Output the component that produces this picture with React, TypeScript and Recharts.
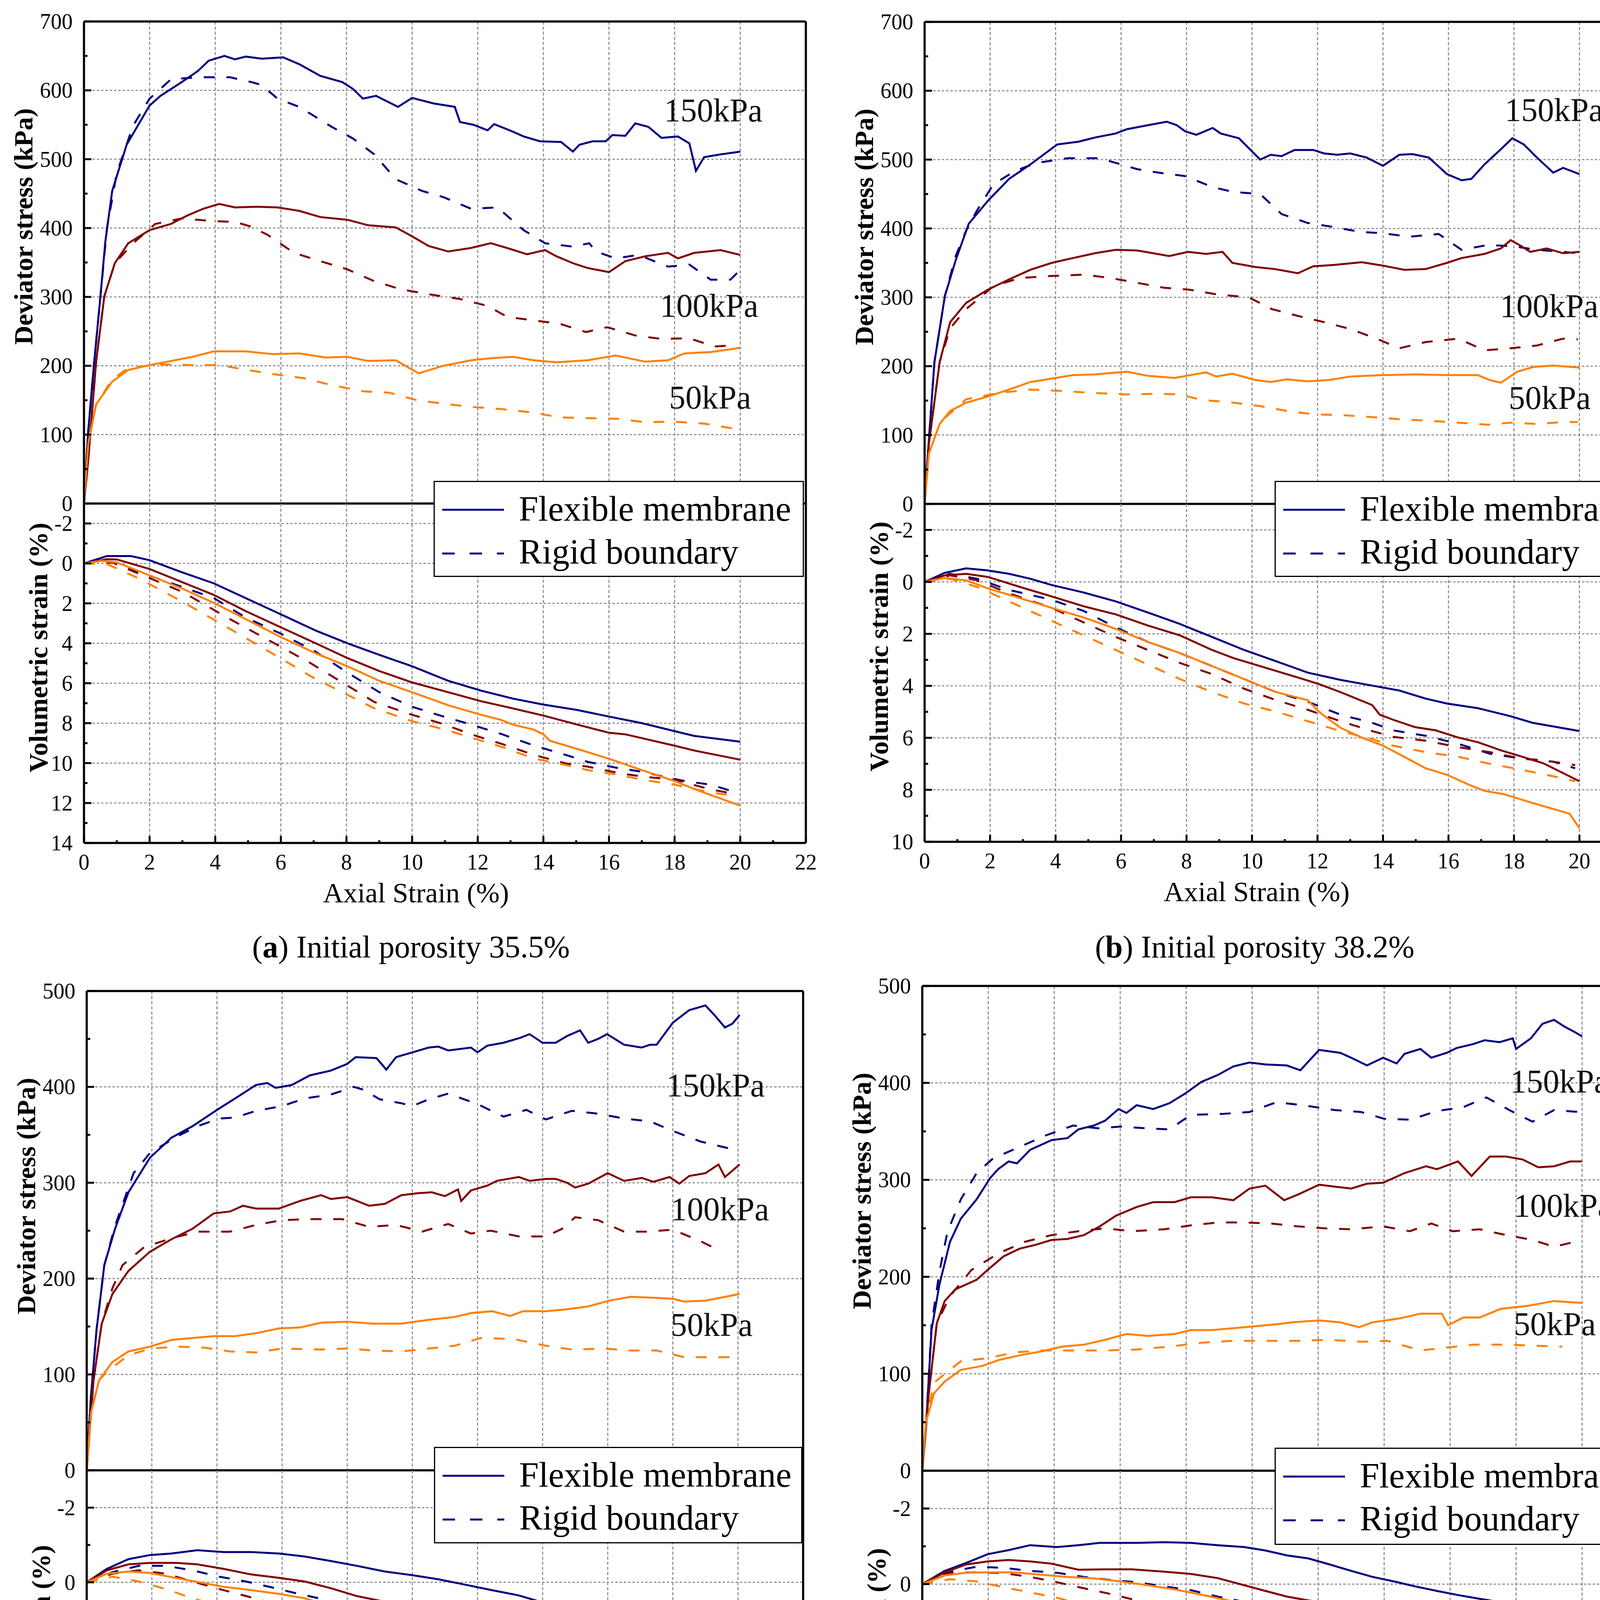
import React from 'react';
import { LineChart, Line, XAxis, YAxis, CartesianGrid, ReferenceLine, ReferenceDot } from 'recharts';

type Pt = [number, number];

// ---------------- Panel (a) : initial porosity 35.5% ----------------
const aQFlex150: Pt[] = [[0,0],[0.12,100],[0.3,200],[0.5,300],[0.65,380],[0.86,454],[1.3,521],[2,578],[2.33,592],[2.98,612],[3.47,628],[3.8,643],[4.28,650],[4.6,645],[4.93,649],[5.42,646],[6.07,648],[6.56,638],[7.2,621],[7.87,612],[8.2,602],[8.5,588],[8.9,592],[9.57,576],[10,589],[10.65,581],[11.3,576],[11.46,554],[11.87,550],[12.3,542],[12.5,551],[13.07,540],[13.4,533],[13.9,526],[14.54,525],[14.9,511],[15.1,521],[15.5,526],[15.9,526],[16.1,535],[16.5,534],[16.8,552],[17.2,547],[17.6,531],[18.1,533],[18.45,523],[18.65,483],[18.9,503],[19.4,507],[20,511]];
const aQRigid150: Pt[] = [[0,0],[0.12,100],[0.3,200],[0.5,300],[0.7,400],[1.0,480],[1.5,549],[2,588],[2.65,616],[3.47,619],[4.45,619],[5.1,612],[5.4,608],[5.9,588],[6.56,576],[6.9,566],[7.55,547],[8.2,530],[8.85,507],[9.5,471],[10.3,454],[10.95,445],[11.8,428],[12.6,430],[13.4,397],[14.05,378],[14.9,373],[15.4,378],[15.6,366],[16.2,356],[16.9,361],[17.8,344],[18.45,347],[19.1,325],[19.7,325],[19.95,337]];
const aQFlex100: Pt[] = [[0,0],[0.13,63],[0.37,206],[0.62,301],[0.94,349],[1.35,378],[2,397],[2.65,406],[3.14,418],[3.63,428],[4.12,435],[4.6,430],[5.26,431],[5.9,430],[6.56,425],[7.2,416],[8.03,412],[8.67,404],[9.5,401],[10,388],[10.5,374],[11.1,366],[11.78,371],[12.4,378],[12.9,371],[13.5,362],[14.05,368],[14.4,359],[14.9,349],[15.35,342],[16,336],[16.5,352],[17.1,359],[17.8,364],[18.1,356],[18.6,364],[19.4,368],[20,361]];
const aQRigid100: Pt[] = [[0,0],[0.13,63],[0.37,206],[0.62,301],[0.94,349],[1.5,378],[2.17,406],[2.98,414],[3.96,410],[4.6,409],[5.1,402],[5.6,390],[6.4,364],[7.2,352],[8.03,340],[8.84,323],[9.66,311],[10.5,304],[11.46,297],[12.3,287],[12.9,271],[13.7,266],[14.5,261],[15.3,249],[15.95,256],[16.8,244],[17.6,239],[18.45,240],[19.2,228],[19.9,230]];
const aQFlex50: Pt[] = [[0,0],[0.13,87],[0.37,144],[0.86,177],[1.35,194],[2,201],[2.65,207],[3.3,213],[3.96,221],[4.93,221],[5.75,217],[6.56,218],[7.37,212],[8.03,213],[8.67,207],[9.5,208],[10.2,189],[10.95,200],[11.8,208],[12.4,211],[13.07,213],[13.7,208],[14.4,205],[15.35,208],[16.2,215],[17.1,206],[17.8,208],[18.3,218],[19.1,220],[20,226]];
const aQRigid50: Pt[] = [[0,0],[0.13,87],[0.37,144],[0.86,180],[1.35,197],[2.33,202],[3.3,201],[4.12,201],[5.1,193],[5.9,187],[6.7,182],[7.54,172],[8.5,163],[9.3,161],[10.15,150],[11.1,144],[11.9,140],[12.75,137],[13.7,132],[14.5,125],[15.35,124],[16.3,123],[17.1,118],[17.96,119],[18.9,116],[19.9,108]];
const aVFlex150: Pt[] = [[0,0],[0.7,-0.37],[1.43,-0.37],[2,-0.16],[2.98,0.44],[3.96,1.0],[4.93,1.74],[6,2.55],[7.06,3.36],[8.03,4.0],[9,4.58],[10,5.15],[11.1,5.88],[12.1,6.37],[13.07,6.77],[14,7.07],[15.03,7.34],[16,7.67],[17,8.0],[18,8.4],[18.6,8.64],[20,8.93]];
const aVFlex100: Pt[] = [[0,0],[0.7,-0.21],[1,-0.2],[2,0.28],[2.98,0.93],[3.96,1.58],[4.93,2.39],[6,3.2],[7.06,4.0],[8.03,4.74],[9,5.39],[10,5.96],[11.1,6.45],[12.1,6.9],[13.07,7.26],[14,7.62],[15.03,8.07],[16,8.48],[16.5,8.56],[17,8.75],[18,9.13],[18.6,9.37],[20,9.83]];
const aVFlex50: Pt[] = [[0,0],[0.54,-0.13],[1,-0.05],[2,0.6],[2.98,1.25],[3.96,1.98],[4.93,2.79],[6,3.69],[7.06,4.5],[8.03,5.15],[9,5.88],[10,6.45],[11.1,7.1],[12.1,7.58],[12.7,7.83],[13.07,8.07],[13.7,8.32],[14,8.56],[14.2,8.88],[15.03,9.29],[16,9.78],[17,10.35],[18,10.9],[18.6,11.3],[20,12.13]];
const aVRigid150: Pt[] = [[0,0],[0.86,-0.05],[1.68,0.44],[2.98,1.17],[3.96,1.74],[4.93,2.71],[6,3.52],[7.06,4.42],[8.03,5.47],[9,6.45],[10,7.18],[10.96,7.67],[11.8,8.07],[12.75,8.56],[13.73,9.13],[14.7,9.6],[15.36,9.94],[16.3,10.26],[17,10.43],[17.64,10.67],[18.3,10.9],[19.1,11.08],[19.9,11.48]];
const aVRigid100: Pt[] = [[0,0],[0.86,-0.05],[1.68,0.52],[2.98,1.41],[4.45,2.79],[5.9,4.09],[6.9,4.99],[7.87,5.96],[8.85,6.94],[10,7.58],[11,8.07],[11.8,8.56],[12.75,9.05],[13.73,9.6],[14.7,10.02],[15.36,10.18],[16.3,10.5],[17,10.67],[18,10.83],[19.1,11.32],[19.9,11.56]];
const aVRigid50: Pt[] = [[0,0],[0.7,0.03],[1.68,0.76],[2.98,1.9],[4.45,3.28],[5.9,4.66],[6.9,5.64],[7.87,6.45],[8.85,7.26],[10,7.9],[11,8.32],[11.8,8.72],[12.75,9.2],[13.73,9.78],[14.7,10.1],[15.36,10.35],[16.3,10.59],[17,10.83],[18,11.08],[19.1,11.48],[19.9,11.64]];

// ---------------- Panel (b) : initial porosity 38.2% ----------------
const bQFlex150: Pt[] = [[0,0],[0.05,39],[0.3,206],[0.62,302],[0.95,354],[1.35,407],[1.93,440],[2.58,472],[3.23,493],[4.05,522],[4.7,526],[5.2,532],[5.84,538],[6.17,544],[6.82,550],[7.4,555],[7.7,550],[7.96,541],[8.3,536],[8.8,546],[9.04,538],[9.6,531],[10.25,500],[10.57,507],[10.9,505],[11.3,514],[11.87,514],[12.2,509],[12.6,507],[13,509],[13.5,503],[14,491],[14.5,507],[14.9,508],[15.4,503],[15.95,479],[16.4,470],[16.7,472],[17.1,493],[17.6,515],[17.95,531],[18.3,522],[18.7,503],[19.2,481],[19.5,488],[20,479]];
const bQRigid150: Pt[] = [[0,0],[0.05,39],[0.3,206],[0.62,302],[0.95,360],[1.27,397],[1.6,426],[2.1,464],[2.74,483],[3.4,495],[4.37,502],[5.35,502],[6,493],[6.5,486],[7.15,481],[7.96,476],[8.8,460],[9.43,453],[10.25,450],[10.9,421],[11.7,408],[12.5,402],[13.3,395],[14,393],[14.8,388],[15.7,392],[16.4,369],[17.2,376],[18,374],[18.7,369],[19.5,366],[19.95,364]];
const bQFlex100: Pt[] = [[0,0],[0.13,87],[0.46,206],[0.78,264],[1.27,292],[1.93,311],[2.58,326],[3.23,340],[3.88,350],[4.53,357],[5.2,364],[5.84,369],[6.5,368],[7.47,360],[8.05,366],[8.6,363],[9.1,366],[9.4,350],[10.1,344],[10.7,341],[11.4,335],[11.87,345],[12.5,347],[13.35,351],[14,346],[14.65,340],[15.3,341],[15.95,350],[16.4,357],[17.1,363],[17.6,371],[17.9,383],[18.2,375],[18.5,366],[19,371],[19.5,364],[20,366]];
const bQRigid100: Pt[] = [[0,0],[0.13,87],[0.46,206],[0.78,255],[1.27,283],[2.1,316],[2.9,328],[3.88,331],[4.86,333],[5.68,328],[6.5,321],[7.3,314],[8.1,311],[8.95,304],[9.9,300],[10.6,283],[11.4,273],[12.2,264],[13,254],[13.8,240],[14.5,226],[15.3,235],[16.3,240],[17.1,223],[17.9,226],[18.7,230],[19.5,240],[19.95,239]];
const bQFlex50: Pt[] = [[0,0],[0.13,73],[0.46,116],[0.78,135],[1.27,147],[1.93,156],[2.58,166],[3.23,177],[3.88,182],[4.53,187],[5.2,188],[6.17,192],[6.82,186],[7.63,183],[8.6,191],[8.9,185],[9.4,189],[10.1,180],[10.57,177],[11.06,181],[11.7,178],[12.35,180],[13,185],[14,187],[14.98,188],[15.95,187],[16.9,187],[17.25,180],[17.6,176],[18.1,192],[18.6,199],[19.2,201],[20,198]];
const bQRigid50: Pt[] = [[0,0],[0.13,73],[0.46,116],[0.62,125],[1.27,152],[2.25,161],[3.23,166],[4.2,164],[5.2,161],[6.17,159],[7.15,160],[7.8,159],[8.45,151],[9.27,148],[10.25,142],[11.06,135],[11.9,130],[12.7,129],[13.7,126],[14.5,123],[15.3,121],[16.3,118],[17.2,115],[17.9,118],[18.7,116],[19.5,119],[19.95,119]];
const bVFlex150: Pt[] = [[0,0],[0.62,-0.35],[1.27,-0.52],[1.93,-0.44],[2.58,-0.31],[3.23,-0.12],[3.88,0.12],[4.86,0.41],[5.84,0.75],[6.82,1.18],[7.8,1.62],[8.78,2.12],[9.76,2.62],[10.73,3.05],[11.7,3.49],[12.7,3.77],[13.67,3.99],[14.5,4.18],[15.3,4.49],[15.95,4.68],[16.9,4.86],[17.9,5.17],[18.56,5.42],[20,5.74]];
const bVFlex100: Pt[] = [[0,0],[0.62,-0.25],[1.27,-0.31],[1.93,-0.19],[2.9,0.19],[3.88,0.56],[4.86,0.94],[5.84,1.25],[6.82,1.68],[7.8,2.06],[8.78,2.62],[9.43,2.93],[10.4,3.3],[11.4,3.68],[12.04,3.93],[12.7,4.24],[13.67,4.74],[13.9,5.11],[14.3,5.3],[14.98,5.59],[15.6,5.71],[16.3,5.99],[16.9,6.17],[17.6,6.48],[18.1,6.67],[18.9,6.98],[20,7.67]];
const bVFlex50: Pt[] = [[0,0],[0.62,-0.15],[1.27,-0.06],[1.93,0.25],[2.9,0.62],[3.88,1.0],[4.86,1.37],[5.84,1.81],[6.82,2.31],[7.8,2.74],[8.78,3.24],[9.76,3.74],[10.73,4.24],[11.7,4.55],[12.04,4.99],[12.36,5.3],[12.7,5.61],[13.35,5.99],[14,6.3],[14.65,6.73],[15.3,7.17],[15.95,7.42],[16.6,7.79],[17.1,8.04],[17.7,8.17],[18.5,8.48],[19.7,8.92],[20,9.48]];
const bVRigid150: Pt[] = [[0,0],[0.78,-0.31],[1.6,-0.12],[2.58,0.31],[3.88,0.69],[4.86,1.12],[5.84,1.75],[6.82,2.31],[7.8,2.74],[8.78,3.24],[9.76,3.74],[10.73,4.24],[11.7,4.61],[12.7,5.11],[13.67,5.42],[14.3,5.71],[15.3,5.92],[16.3,6.23],[17.26,6.61],[18.24,6.8],[19.2,6.92],[19.87,7.17]];
const bVRigid100: Pt[] = [[0,0],[0.78,-0.25],[1.6,-0.06],[2.58,0.44],[3.88,1.0],[4.86,1.56],[5.84,2.12],[6.82,2.62],[7.8,3.12],[8.78,3.55],[9.76,4.11],[10.73,4.55],[11.7,4.92],[12.7,5.36],[13.67,5.74],[14.3,5.96],[15.3,6.11],[16.3,6.36],[17.26,6.55],[18.24,6.8],[18.9,6.86],[19.87,7.05]];
const bVRigid50: Pt[] = [[0,0],[0.78,-0.12],[1.6,0.19],[2.58,0.75],[3.88,1.5],[4.86,2.06],[5.84,2.62],[6.82,3.18],[7.8,3.74],[8.78,4.24],[9.76,4.68],[10.73,4.99],[11.7,5.36],[12.7,5.74],[13.67,6.05],[14.3,6.3],[15.3,6.55],[16.3,6.73],[17.26,7.0],[18.24,7.23],[19.2,7.48],[19.87,7.67]];

// ---------------- Panel (c) : initial porosity 40.8% ----------------
const cQFlex150: Pt[] = [[0,0],[0.13,77],[0.3,146],[0.54,214],[0.87,252],[1.28,290],[1.94,326],[2.6,347],[3.25,359],[4,376],[4.56,388],[5.2,402],[5.55,404],[5.8,399],[6.3,402],[6.85,412],[7.5,417],[8,424],[8.26,431],[8.9,430],[9.2,418],[9.5,431],[10,436],[10.5,441],[10.8,442],[11.1,438],[11.8,441],[12,436],[12.3,443],[12.8,446],[13.3,451],[13.6,455],[14,446],[14.4,446],[14.75,453],[15.15,459],[15.4,446],[15.7,450],[15.98,455],[16.5,444],[17.04,441],[17.3,444],[17.5,444],[18,467],[18.5,480],[19,485],[19.3,474],[19.6,462],[19.83,466],[20.05,475]];
const cQRigid150: Pt[] = [[0,0],[0.13,77],[0.3,146],[0.54,214],[0.87,255],[1.44,310],[1.94,331],[2.76,348],[3.4,359],[4.07,367],[4.56,368],[5.2,375],[6,380],[6.7,388],[7.5,392],[8.2,400],[8.5,397],[9,387],[9.65,383],[10,380],[10.5,387],[11.1,393],[12,382],[12.8,369],[13.5,376],[14.1,366],[14.9,375],[15.7,372],[16.5,367],[17.3,364],[18,354],[18.85,343],[19.7,336]];
const cQFlex100: Pt[] = [[0,0],[0.21,94],[0.46,153],[0.79,184],[1.28,208],[1.94,228],[2.6,241],[3.25,252],[3.9,268],[4.4,270],[4.8,276],[5.2,273],[5.9,273],[6.55,281],[7.2,287],[7.5,283],[8,285],[8.67,276],[9.16,278],[9.66,287],[10.15,289],[10.6,290],[11,286],[11.4,293],[11.5,281],[11.8,292],[12.3,297],[12.6,302],[13.27,306],[13.6,302],[14.1,304],[14.4,304],[14.75,300],[15,295],[15.4,299],[16,310],[16.5,302],[17.05,305],[17.4,301],[17.9,306],[18.2,299],[18.5,307],[19,310],[19.4,319],[19.6,306],[20.05,319]];
const cQRigid100: Pt[] = [[0,0],[0.21,94],[0.46,153],[0.79,190],[1.1,214],[1.77,233],[2.6,242],[3.4,249],[4.4,249],[5.2,256],[6,261],[6.8,262],[7.85,262],[8.67,254],[9.5,256],[10.3,249],[11.1,257],[11.8,247],[12.4,250],[13.27,244],[14.1,244],[14.6,252],[15,264],[15.7,261],[16.5,249],[17.2,249],[18,251],[18.85,239],[19.5,228]];
const cQFlex50: Pt[] = [[0,0],[0.13,60],[0.38,94],[0.79,113],[1.28,124],[1.94,129],[2.6,136],[3.25,138],[3.9,140],[4.56,140],[5.2,143],[5.9,148],[6.55,149],[7.2,154],[8,155],[8.8,153],[9.66,153],[10.5,157],[11.3,160],[11.8,164],[12.45,166],[13,161],[13.4,166],[14.1,166],[14.75,168],[15.4,171],[16.05,177],[16.7,181],[17.4,180],[18,179],[18.35,176],[19,177],[20.05,184]];
const cQRigid50: Pt[] = [[0,0],[0.13,60],[0.38,94],[0.62,103],[1.28,120],[1.94,127],[2.76,129],[3.6,128],[4.4,124],[5.2,123],[6,127],[7.2,126],[8,127],[8.8,125],[9.66,124],[10.5,127],[11.3,130],[12.1,138],[13.1,137],[14.1,130],[14.9,126],[15.9,127],[16.7,125],[17.5,125],[18.35,118],[19.2,118],[19.97,118]];
const cVFlex150: Pt[] = [[0,0],[0.62,-0.36],[1.28,-0.62],[1.94,-0.73],[2.6,-0.77],[3.4,-0.86],[4.2,-0.81],[5.05,-0.81],[5.9,-0.77],[6.7,-0.69],[7.5,-0.57],[8.3,-0.44],[9.15,-0.29],[10,-0.19],[10.8,-0.08],[11.6,0.06],[12.44,0.21],[13.26,0.35],[14.08,0.56],[14.7,0.72],[15.4,0.89],[16.05,0.99],[17.03,1.22],[17.85,1.35],[18.67,1.51],[19.33,1.76],[20.03,1.87]];
const cVFlex100: Pt[] = [[0,0],[0.62,-0.32],[1.28,-0.48],[1.94,-0.52],[2.76,-0.52],[3.4,-0.48],[4.2,-0.36],[5.05,-0.21],[5.9,-0.12],[6.7,-0.02],[7.5,0.16],[8.3,0.37],[9.15,0.52],[10,0.68],[10.8,0.81],[11.6,0.93],[12.44,1.06],[13.26,1.31],[14.08,1.55],[14.7,1.84],[15.4,2.09],[16.05,2.22],[17.03,2.43],[17.85,2.64],[18.17,2.84],[18.67,3.01],[19.33,3.26],[20.03,3.42]];
const cVFlex50: Pt[] = [[0,0],[0.62,-0.23],[1.28,-0.29],[1.94,-0.25],[2.76,-0.11],[3.4,-0.01],[4.2,0.12],[5.05,0.21],[5.9,0.31],[6.7,0.43],[7.5,0.64],[8.3,0.89],[9.15,1.1],[10,1.31],[10.8,1.51],[11.6,1.8],[12.44,2.13],[13.26,2.39],[13.75,2.59],[14.24,2.84],[14.7,3.05],[15.4,3.34],[16.05,3.59],[16.9,3.8],[17.5,4.13],[18.17,4.46],[18.67,4.75],[19.16,5.08],[19.66,5.13],[20.03,5.25]];
const cVRigid150: Pt[] = [[0,0],[0.79,-0.27],[1.6,-0.44],[2.43,-0.44],[3.25,-0.32],[4.07,-0.15],[4.9,-0.02],[5.7,0.14],[6.5,0.31],[7.35,0.47],[8.17,0.68],[9,0.91],[9.8,1.1],[10.6,1.26],[11.45,1.45],[12.27,1.64],[13.1,1.76],[13.9,1.89],[14.75,2.05],[15.55,2.22],[16.4,2.43],[17.2,2.59],[18,2.76],[18.67,2.88],[19.5,3.01]];
const cVRigid100: Pt[] = [[0,0],[0.79,-0.23],[1.6,-0.32],[2.43,-0.23],[3.25,-0.02],[4.07,0.18],[4.9,0.37],[5.7,0.56],[6.5,0.72],[7.35,0.93],[8.17,1.14],[9,1.35],[9.8,1.54],[10.6,1.74],[11.45,1.93],[12.27,2.09],[13.1,2.22],[13.9,2.3],[14.75,2.47],[15.55,2.59],[16.4,2.72],[17.2,2.82],[18,2.93],[18.67,3.09],[19.5,3.15]];
const cVRigid50: Pt[] = [[0,0],[0.79,-0.15],[1.6,-0.02],[2.43,0.18],[3.25,0.43],[4.07,0.64],[4.9,0.81],[5.7,0.93],[6.5,1.14],[7.35,1.35],[8.17,1.55],[9,1.72],[9.8,1.87],[10.6,2.04],[11.45,2.2],[12.27,2.39],[13.1,2.59],[13.9,2.78],[14.75,2.93],[15.55,3.09],[16.4,3.22],[17.2,3.37],[18,3.53],[18.67,3.67],[19.5,3.8],[20,3.88]];

// ---------------- Panel (d) : initial porosity 41.5% ----------------
const dQFlex150: Pt[] = [[0,0],[0.11,43],[0.28,145],[0.52,192],[0.84,236],[1.17,260],[1.65,280],[2.06,302],[2.3,311],[2.62,319],[2.87,317],[3.27,331],[3.92,341],[4.4,343],[4.73,352],[5.2,356],[5.54,361],[5.95,373],[6.19,369],[6.5,377],[7,373],[7.49,379],[7.97,389],[8.46,401],[8.95,408],[9.43,417],[9.92,421],[10.4,419],[11.05,418],[11.46,413],[12.03,434],[12.67,431],[13,426],[13.48,418],[13.97,426],[14.38,420],[14.62,430],[15.1,435],[15.43,426],[15.9,431],[16.2,436],[16.7,440],[17.05,444],[17.5,442],[17.9,446],[18,435],[18.45,446],[18.8,461],[19.15,465],[19.47,458],[19.8,452],[20,448]];
const dQRigid150: Pt[] = [[0,0],[0.11,43],[0.28,150],[0.52,205],[0.76,246],[1.17,280],[1.65,307],[2.14,322],[2.95,334],[3.76,346],[4.57,356],[5.38,353],[6,355],[6.84,353],[7.49,352],[8.14,367],[9.1,368],[9.92,370],[10.73,380],[11.54,377],[12.5,372],[13.3,370],[14,363],[14.8,362],[15.6,371],[16.4,375],[17.1,385],[17.85,371],[18.5,360],[19.15,372],[19.9,370]];
const dQFlex100: Pt[] = [[0,0],[0.19,77],[0.44,152],[0.68,175],[1,187],[1.65,197],[1.98,207],[2.46,221],[2.95,229],[3.44,233],[3.92,238],[4.4,239],[4.9,243],[5.38,252],[5.87,263],[6.5,272],[7,277],[7.65,277],[8.14,282],[8.78,282],[9.43,279],[9.92,291],[10.4,294],[10.97,279],[11.4,285],[12.03,295],[12.5,293],[13,291],[13.48,296],[13.97,297],[14.62,307],[15.27,314],[15.6,311],[16.24,319],[16.65,304],[17.2,324],[17.7,324],[18.2,321],[18.67,313],[19.15,314],[19.64,319],[20,319]];
const dQRigid100: Pt[] = [[0,0],[0.19,77],[0.44,152],[0.84,180],[1.49,207],[2.3,224],[3.1,236],[3.92,243],[4.73,247],[5.54,250],[6.35,247],[7.33,249],[8.14,253],[8.95,256],[9.76,256],[10.57,255],[11.38,252],[12.2,250],[13,249],[13.97,252],[14.78,247],[15.43,255],[16.08,247],[16.9,249],[17.7,243],[18.5,238],[19.15,231],[19.9,237]];
const dQFlex50: Pt[] = [[0,0],[0.11,50],[0.36,80],[0.68,92],[1.17,104],[1.82,108],[2.3,114],[2.95,119],[3.6,123],[4.25,128],[4.9,130],[5.54,135],[6.19,141],[6.84,139],[7.65,141],[8.14,145],[8.78,145],[9.43,147],[10.08,149],[10.73,151],[11.2,153],[12.03,155],[12.67,153],[13.24,148],[13.65,153],[14.46,157],[15.1,162],[15.75,162],[15.94,150],[16.4,158],[16.9,158],[17.54,167],[18.35,170],[19.15,175],[20,173]];
const dQRigid50: Pt[] = [[0,0],[0.11,50],[0.36,91],[1.17,113],[1.98,116],[2.79,122],[3.6,124],[4.57,124],[5.54,124],[6.5,125],[7.49,128],[8.46,132],[9.43,134],[10.4,134],[11.38,134],[12.35,135],[13.3,133],[14.1,134],[15.1,124],[15.9,127],[16.7,130],[17.7,130],[18.5,129],[19.4,128]];
const dVFlex150: Pt[] = [[0,0],[0.68,-0.35],[1.33,-0.56],[1.98,-0.79],[2.62,-0.9],[3.27,-1.03],[4.08,-0.98],[4.73,-1.03],[5.38,-1.09],[6.5,-1.09],[7.33,-1.11],[8.14,-1.09],[8.95,-1.03],[9.76,-0.98],[10.4,-0.89],[11.05,-0.76],[11.7,-0.68],[12.35,-0.52],[13,-0.35],[13.65,-0.19],[14.3,-0.07],[14.94,0.06],[15.6,0.18],[16.24,0.29],[16.9,0.39],[17.54,0.48],[18.18,0.55],[18.83,0.63],[19.48,0.75],[20,1.0]];
const dVFlex100: Pt[] = [[0,0],[0.68,-0.31],[1.33,-0.52],[1.98,-0.6],[2.62,-0.64],[3.27,-0.6],[3.92,-0.54],[4.73,-0.38],[5.54,-0.39],[6.35,-0.39],[7.33,-0.33],[8.14,-0.27],[8.95,-0.16],[9.76,0.03],[10.4,0.18],[11.05,0.33],[11.7,0.43],[12.35,0.51],[13,0.57],[13.65,0.67],[14.3,0.75],[14.94,0.9],[15.6,1.12],[16.24,1.33],[16.9,1.53],[17.54,1.74],[18.18,1.94],[18.83,2.15],[19.48,2.35],[20,2.58]];
const dVFlex50: Pt[] = [[0,0],[0.68,-0.23],[1.33,-0.3],[1.98,-0.31],[2.8,-0.31],[3.6,-0.25],[4.4,-0.19],[5.2,-0.15],[6,-0.07],[6.84,0.03],[7.65,0.14],[8.46,0.28],[9.27,0.43],[10.08,0.63],[10.9,0.88],[11.7,1.2],[12.35,1.49],[13,1.74],[13.48,1.98],[13.97,2.27],[14.46,2.64],[15.1,2.97],[15.75,3.3],[16.56,3.58],[16.9,3.91],[17.54,4.2],[18,4.52],[18.67,4.93],[19.3,5.59],[20,5.82]];
const dVRigid150: Pt[] = [[0,0],[0.84,-0.33],[1.65,-0.46],[2.46,-0.43],[3.27,-0.35],[4.08,-0.3],[4.9,-0.19],[5.7,-0.11],[6.5,-0.05],[7.33,0.06],[8.14,0.16],[8.95,0.33],[9.76,0.47],[10.57,0.59],[11.38,0.75],[12.2,0.92],[13,1.08],[13.97,1.25],[14.78,1.37],[15.6,1.49],[16.4,1.66],[17.2,1.78],[18,1.92],[18.67,2.07],[19.48,2.27]];
const dVRigid100: Pt[] = [[0,0],[0.84,-0.3],[1.65,-0.31],[2.46,-0.29],[3.27,-0.19],[4.08,-0.05],[4.9,0.11],[5.7,0.26],[6.5,0.43],[7.33,0.59],[8.14,0.74],[8.95,0.88],[9.76,1.04],[10.57,1.2],[11.38,1.37],[12.2,1.49],[13,1.64],[13.97,1.74],[14.78,1.84],[15.6,1.98],[16.4,2.15],[17.2,2.31],[18,2.48],[18.67,2.62],[19.48,2.75]];
const dVRigid50: Pt[] = [[0,0],[0.84,-0.13],[1.65,-0.07],[2.46,0.08],[3.27,0.22],[4.08,0.36],[4.9,0.55],[5.7,0.71],[6.5,0.85],[7.33,1.0],[8.14,1.16],[8.95,1.33],[9.76,1.57],[10.57,1.78],[11.38,1.94],[12.2,2.13],[13,2.35],[13.97,2.56],[14.78,2.76],[15.6,2.89],[16.4,3.01],[17.2,3.13],[18,3.28],[18.67,3.42],[19.48,3.54]];

// Text / labels
const pressureLabels = ['150kPa', '100kPa', '50kPa'];
const legendLabels = ['Flexible membrane', 'Rigid boundary'];
const xTitle = 'Axial Strain (%)';
const qTitle = 'Deviator stress (kPa)';
const vTitle = 'Volumetric strain (%)';

const NAVY = '#000080';
const MAROON = '#800000';
const ORANGE = '#FF8000';
const FONT = '"Liberation Serif", "Times New Roman", serif';
const GRID = '#8a8a8a';

// order: flex150, rigid150, flex100, rigid100, flex50, rigid50
const SERIES = [
  { color: NAVY, dashed: false },
  { color: NAVY, dashed: true },
  { color: MAROON, dashed: false },
  { color: MAROON, dashed: true },
  { color: ORANGE, dashed: false },
  { color: ORANGE, dashed: true },
];

interface PanelCfg {
  letter: string;
  porosity: string;
  pl: number; pr: number; pt: number; z: number; pb: number;
  qMax: number; vMax: number;
  q: Pt[][]; v: Pt[][];
  notes: [number, number][];
  volTitleDy: number;
  legend: { left: number; top: number; w: number; h: number };
  cap: { x: number; y: number };
}

const PANELS: PanelCfg[] = [
  {
    letter: 'a', porosity: '35.5%', pl: 215, pr: 2063, pt: 55, z: 1289, pb: 2158, qMax: 700, vMax: 14,
    q: [aQFlex150, aQRigid150, aQFlex100, aQRigid100, aQFlex50, aQRigid50],
    v: [aVFlex150, aVRigid150, aVFlex100, aVRigid100, aVFlex50, aVRigid50],
    notes: [[17.68, 555], [17.55, 271], [17.83, 138]],
    volTitleDy: 369,
    legend: { left: 1110, top: 1231, w: 948, h: 246 },
    cap: { x: 1052, y: 2424 },
  },
  {
    letter: 'b', porosity: '38.2%', pl: 2367, pr: 4211, pt: 56, z: 1290, pb: 2155, qMax: 700, vMax: 10,
    q: [bQFlex150, bQRigid150, bQFlex100, bQRigid100, bQFlex50, bQRigid50],
    v: [bVFlex150, bVRigid150, bVFlex100, bVRigid100, bVFlex50, bVRigid50],
    notes: [[17.72, 556], [17.57, 271], [17.84, 138]],
    volTitleDy: 365,
    legend: { left: 3263, top: 1231, w: 946, h: 246 },
    cap: { x: 3212, y: 2424 },
  },
  {
    letter: 'c', porosity: '40.8%', pl: 222, pr: 2056, pt: 2537, z: 3764, pb: 4624, qMax: 500, vMax: 6,
    q: [cQFlex150, cQRigid150, cQFlex100, cQRigid100, cQFlex50, cQRigid50],
    v: [cVFlex150, cVRigid150, cVFlex100, cVRigid100, cVFlex50, cVRigid50],
    notes: [[17.8, 390], [17.93, 261], [17.93, 140]],
    volTitleDy: 511,
    legend: { left: 1111, top: 3704, w: 943, h: 247 },
    cap: { x: 1052, y: 4887 },
  },
  {
    letter: 'd', porosity: '41.5%', pl: 2361, pr: 4219, pt: 2524, z: 3765, pb: 4636, qMax: 500, vMax: 6,
    q: [dQFlex150, dQRigid150, dQFlex100, dQRigid100, dQFlex50, dQRigid50],
    v: [dVFlex150, dVRigid150, dVFlex100, dVRigid100, dVFlex50, dVRigid50],
    notes: [[17.82, 390], [17.93, 262], [17.93, 140]],
    volTitleDy: 518,
    legend: { left: 3263, top: 3706, w: 950, h: 249 },
    cap: { x: 3205, y: 4887 },
  },
];

const steps = (from: number, to: number, step: number) => {
  const out: number[] = [];
  for (let v = from; v <= to + 1e-9; v += step) out.push(Math.round(v * 1000) / 1000);
  return out;
};

const toRows = (pts: Pt[]) => pts.map(([x, y]) => ({ x, y }));

const YTick = (props: any) => {
  const { x, y, payload, major } = props;
  const v = payload.value as number;
  const isMajor = Math.abs(v / major - Math.round(v / major)) < 1e-6;
  return (
    <g>
      <line x1={x} y1={y} x2={x + (isMajor ? 19 : 9)} y2={y} stroke="#000" strokeWidth={5} />
      {isMajor && (
        <text x={x - 29} y={y} textAnchor="end" dominantBaseline="central" fontFamily={FONT} fontSize={56} fill="#000">
          {String(v)}
        </text>
      )}
    </g>
  );
};

const XTick = (props: any) => {
  const { x, y, payload } = props;
  const v = payload.value as number;
  const isMajor = v % 2 === 0;
  return (
    <g>
      <line x1={x} y1={y} x2={x} y2={y - (isMajor ? 18 : 7)} stroke="#000" strokeWidth={5} />
      {isMajor && (
        <text x={x} y={y + 49} textAnchor="middle" dominantBaseline="central" fontFamily={FONT} fontSize={56} fill="#000">
          {String(v)}
        </text>
      )}
    </g>
  );
};

const RotTitle = ({ tx, ty, text }: any) => (
  <text x={tx} y={ty} transform={`rotate(-90 ${tx} ${ty})`} textAnchor="middle" dominantBaseline="central"
    fontFamily={FONT} fontWeight="bold" fontSize={68} fill="#000">
    {text}
  </text>
);

const FlatTitle = ({ tx, ty, text }: any) => (
  <text x={tx} y={ty} textAnchor="middle" dominantBaseline="central" fontFamily={FONT} fontSize={72} fill="#000">
    {text}
  </text>
);

const renderLines = (sets: Pt[][]) =>
  sets.map((pts, i) => (
    <Line
      key={i}
      data={toRows(pts)}
      dataKey="y"
      type="linear"
      stroke={SERIES[i].color}
      strokeWidth={5}
      strokeDasharray={SERIES[i].dashed ? '28 30' : undefined}
      dot={false}
      activeDot={false}
      isAnimationActive={false}
    />
  ));

function Panel({ cfg }: { cfg: PanelCfg }) {
  const L = 200, R = 40, T = 30, B = 45, TL = 14, XH = 300;
  const plotW = cfg.pr - cfg.pl;
  const upH = cfg.z - cfg.pt;
  const loH = cfg.pb - cfg.z;
  const qTicks = steps(0, cfg.qMax, 50);
  const qGrid = steps(100, cfg.qMax - 100, 100);
  const vTicks = steps(-2, cfg.vMax, 1);
  const vGrid = steps(-2, cfg.vMax - 2, 2);
  const xTicks = steps(0, 22, 1);
  const xGrid = steps(2, 20, 2);
  const frame = { stroke: '#000', strokeWidth: 5.5 };
  const lg = cfg.legend;

  return (
    <>
      <div style={{ position: 'absolute', left: cfg.pl - L, top: cfg.pt - T }}>
        <LineChart width={L + plotW + R} height={T + upH + B} margin={{ top: T, right: R, bottom: B, left: 0 }}>
          <CartesianGrid vertical={false} horizontalValues={qGrid} stroke={GRID} strokeWidth={2.7} strokeDasharray="6 5" />
          <CartesianGrid horizontal={false} verticalValues={xGrid} stroke={GRID} strokeWidth={2.7} strokeDasharray="8 5" />
          <XAxis type="number" dataKey="x" domain={[0, 22]} ticks={xTicks} allowDataOverflow hide height={0} />
          <YAxis
            type="number"
            domain={[0, cfg.qMax]}
            ticks={qTicks}
            interval={0}
            allowDataOverflow
            width={L}
            tickSize={0}
            tickMargin={0}
            tickLine={false}
            axisLine={frame}
            tick={(p: any) => <YTick {...p} major={100} />}
            label={<RotTitle tx={L - 155} ty={T + 525} text={qTitle} />}
          />
          {renderLines(cfg.q)}
          <ReferenceLine y={cfg.qMax} {...frame} />
          <ReferenceLine y={0} {...frame} />
          <ReferenceLine x={22} {...frame} />
          {cfg.notes.map(([nx, ny], i) => (
            <ReferenceDot
              key={i}
              x={nx}
              y={ny}
              r={0}
              ifOverflow="visible"
              shape={(p: any) => (
                <text x={p.cx} y={p.cy} fontFamily={FONT} fontSize={84} fill="#111">
                  {pressureLabels[i]}
                </text>
              )}
            />
          ))}
        </LineChart>
      </div>

      <div style={{ position: 'absolute', left: cfg.pl - L, top: cfg.z - TL }}>
        <LineChart width={L + plotW + R} height={TL + loH + XH} margin={{ top: TL, right: R, bottom: 0, left: 0 }}>
          <CartesianGrid vertical={false} horizontalValues={vGrid} stroke={GRID} strokeWidth={2.7} strokeDasharray="6 5" />
          <CartesianGrid horizontal={false} verticalValues={xGrid} stroke={GRID} strokeWidth={2.7} strokeDasharray="8 5" />
          <XAxis
            type="number"
            dataKey="x"
            domain={[0, 22]}
            ticks={xTicks}
            interval={0}
            allowDataOverflow
            height={XH}
            tickSize={0}
            tickMargin={0}
            tickLine={false}
            axisLine={frame}
            tick={(p: any) => <XTick {...p} />}
            label={<FlatTitle tx={L + 850} ty={TL + loH + 128} text={xTitle} />}
          />
          <YAxis
            type="number"
            domain={[-3, cfg.vMax]}
            reversed
            ticks={vTicks}
            interval={0}
            allowDataOverflow
            width={L}
            tickSize={0}
            tickMargin={0}
            tickLine={false}
            axisLine={frame}
            tick={(p: any) => <YTick {...p} major={2} />}
            label={<RotTitle tx={L - 117} ty={TL + cfg.volTitleDy} text={vTitle} />}
          />
          {renderLines(cfg.v)}
          <ReferenceLine x={22} {...frame} />
        </LineChart>
      </div>

      <div
        style={{
          position: 'absolute', left: lg.left, top: lg.top, width: lg.w, height: lg.h,
          border: '3px solid #000', background: '#fff', boxSizing: 'border-box',
        }}
      >
        <svg width={lg.w - 6} height={lg.h - 6} style={{ display: 'block' }}>
          <line x1={19} y1={71} x2={177} y2={71} stroke={NAVY} strokeWidth={5} />
          <line x1={19} y1={183} x2={177} y2={183} stroke={NAVY} strokeWidth={5} strokeDasharray="32 38" />
          <text x={215} y={99} fontFamily={FONT} fontSize={90} fill="#000">{legendLabels[0]}</text>
          <text x={215} y={209} fontFamily={FONT} fontSize={90} fill="#000">{legendLabels[1]}</text>
        </svg>
      </div>

      <div
        style={{
          position: 'absolute', left: cfg.cap.x - 700, top: cfg.cap.y - 55, width: 1400, height: 110,
          textAlign: 'center', fontFamily: FONT, fontSize: 80, lineHeight: '110px', color: '#000', whiteSpace: 'nowrap',
        }}
      >
        (<b>{cfg.letter}</b>) Initial porosity {cfg.porosity}
      </div>
    </>
  );
}

export default function App() {
  return (
    <div style={{ position: 'absolute', left: 0, top: 0, width: 4289, height: 4947, background: '#fff', overflow: 'hidden' }}>
      {PANELS.map((p) => (
        <Panel key={p.letter} cfg={p} />
      ))}
    </div>
  );
}
